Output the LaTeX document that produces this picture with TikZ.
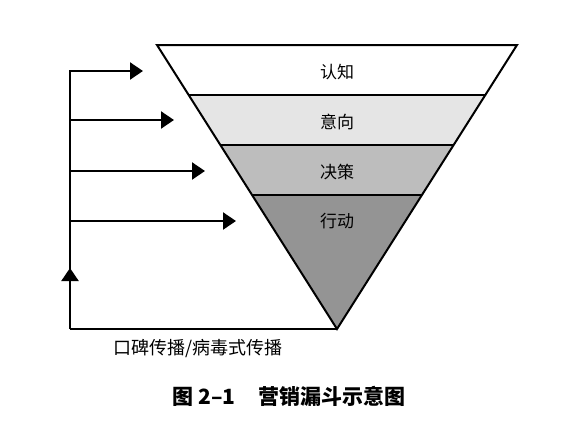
\documentclass[tikz,border=0pt]{standalone}
\usepackage{fontspec}
\newfontfamily\cjk{Noto Sans CJK SC}
\usetikzlibrary{arrows.meta,calc}
\tikzset{
  edge/.style={line width=2pt, line join=miter},
  flow/.style={line width=2.2pt, -{Triangle[length=13pt,width=17pt]}},
  band/.style={font=\cjk\fontsize{17}{17}\selectfont, inner sep=0pt},
}
\begin{document}
\begin{tikzpicture}[x=1pt,y=-1pt]
\useasboundingbox (0,0) rectangle (578,429);
\coordinate (TL) at (157,45);
\coordinate (TR) at (517,45);
\coordinate (A) at (337,329);
\coordinate (L1) at ($(TL)!0.17606!(A)$);
\coordinate (R1) at ($(TR)!0.17606!(A)$);
\coordinate (L2) at ($(TL)!0.35211!(A)$);
\coordinate (R2) at ($(TR)!0.35211!(A)$);
\coordinate (L3) at ($(TL)!0.52817!(A)$);
\coordinate (R3) at ($(TR)!0.52817!(A)$);
% fills
\fill[white] (TL) -- (TR) -- (R1) -- (L1) -- cycle;
\fill[black!10] (L1) -- (R1) -- (R2) -- (L2) -- cycle;
\fill[black!26] (L2) -- (R2) -- (R3) -- (L3) -- cycle;
\fill[black!42] (L3) -- (R3) -- (A) -- cycle;
% outlines
\draw[edge] (TL) -- (TR) -- (A) -- cycle;
\draw[edge] (L1) -- (R1);
\draw[edge] (L2) -- (R2);
\draw[edge] (L3) -- (R3);
% labels
\node[band] (s1) at (337,72) {认知};
\node[band] (s2) at (337,122) {意向};
\node[band] (s3) at (337,172) {决策};
\node[band] (s4) at (337,221) {行动};
% feedback loop
\coordinate (B0) at (70,329);
\coordinate (V1) at (70,71);
\coordinate (V2) at (70,120);
\coordinate (V3) at (70,171);
\coordinate (V4) at (70,221);
\coordinate (E1) at (143,71);
\coordinate (E2) at (174,120);
\coordinate (E3) at (205,171);
\coordinate (E4) at (236,221);
\coordinate (UP) at (70,268);
\draw[line width=2.2pt] (A) -- (B0);
\draw[flow] (B0) -- (UP);
\draw[line width=2.2pt, line cap=rect] (UP) -- (V1);
\draw[flow] (V1) -- (E1);
\draw[flow] (V2) -- (E2);
\draw[flow] (V3) -- (E3);
\draw[flow] (V4) -- (E4);
\node[font=\cjk\fontsize{18}{18}\selectfont, inner sep=0pt] (wm) at (198,349) {口碑传播/病毒式传播};
\node[font=\cjk\bfseries\fontsize{21}{21}\selectfont, inner sep=0pt] (cap) at (289,396) {图 2–1\hspace{1.1em}营销漏斗示意图};
\end{tikzpicture}
\end{document}
